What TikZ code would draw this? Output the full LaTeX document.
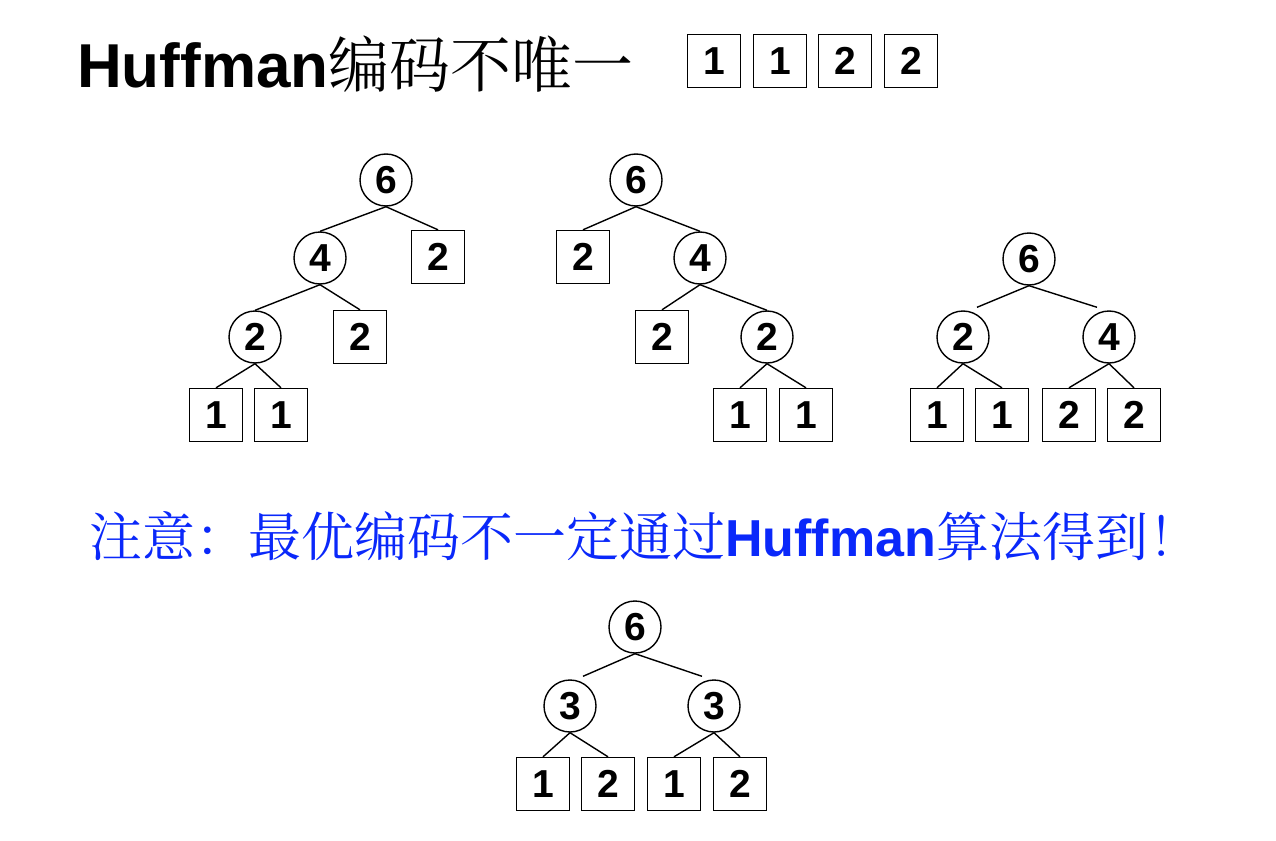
\documentclass[tikz,border=0pt]{standalone}
\usepackage{fontspec}
\setmainfont{Liberation Sans}
\IfFontExistsTF{Noto Serif CJK SC}
  {\newfontfamily\cjk{Noto Serif CJK SC}}
  {\IfFontExistsTF{FandolSong}
    {\newfontfamily\cjk{FandolSong}}
    {\newfontfamily\cjk{Noto Sans CJK SC}}}
\definecolor{noteblue}{RGB}{10,40,250}
\begin{document}
\begin{tikzpicture}[x=1pt,y=-1pt,
  every node/.style={font=\fontsize{39}{39}\selectfont\bfseries},
  cnode/.style={draw,circle,line width=1.4pt,minimum size=52pt,inner sep=0pt},
  bnode/.style={draw,rectangle,line width=1.4pt,minimum size=53pt,inner sep=0pt},
  edge/.style={line width=1.4pt}]
\useasboundingbox (0,0) rectangle (1276,840);
% title
\node[anchor=base west,inner sep=0pt] (title) at (77,88)
  {\fontsize{62}{62}\selectfont\bfseries Huffman{\mdseries\cjk\fontsize{61}{61}\selectfont 编码不唯一}};
\node[bnode] (t1) at (714,61) {1};
\node[bnode] (t2) at (780,61) {1};
\node[bnode] (t3) at (845,61) {2};
\node[bnode] (t4) at (911,61) {2};
% tree 1
\node[cnode] (a6) at (386,180) {6};
\node[cnode] (a4) at (320,258) {4};
\node[bnode] (a2r) at (438,257) {2};
\node[cnode] (a2) at (255,337) {2};
\node[bnode] (a2m) at (360,337) {2};
\node[bnode] (a1l) at (216,415) {1};
\node[bnode] (a1r) at (281,415) {1};
\draw[edge] (a6.south) -- (a4.north);
\draw[edge] (a6.south) -- (a2r.north);
\draw[edge] (a4.south) -- (a2.north);
\draw[edge] (a4.south) -- (a2m.north);
\draw[edge] (a2.south) -- (a1l.north);
\draw[edge] (a2.south) -- (a1r.north);
% tree 2
\node[cnode] (b6) at (636,180) {6};
\node[bnode] (b2l) at (583,257) {2};
\node[cnode] (b4) at (700,258) {4};
\node[bnode] (b2m) at (662,337) {2};
\node[cnode] (b2) at (767,337) {2};
\node[bnode] (b1l) at (740,415) {1};
\node[bnode] (b1r) at (806,415) {1};
\draw[edge] (b6.south) -- (b2l.north);
\draw[edge] (b6.south) -- (b4.north);
\draw[edge] (b4.south) -- (b2m.north);
\draw[edge] (b4.south) -- (b2.north);
\draw[edge] (b2.south) -- (b1l.north);
\draw[edge] (b2.south) -- (b1r.north);
% tree 3
\node[cnode] (c6) at (1029,259) {6};
\node[cnode] (c2) at (963,337) {2};
\node[cnode] (c4) at (1109,337) {4};
\node[bnode] (c1a) at (937,415) {1};
\node[bnode] (c1b) at (1002,415) {1};
\node[bnode] (c2a) at (1069,415) {2};
\node[bnode] (c2b) at (1134,415) {2};
\draw[edge] (c6.south) -- ([xshift=14pt,yshift=3pt]c2.north);
\draw[edge] (c6.south) -- ([xshift=-12pt,yshift=3pt]c4.north);
\draw[edge] (c2.south) -- (c1a.north);
\draw[edge] (c2.south) -- (c1b.north);
\draw[edge] (c4.south) -- (c2a.north);
\draw[edge] (c4.south) -- (c2b.north);
% note
\node[anchor=base west,inner sep=0pt,text=noteblue] (note) at (89,556)
  {\fontsize{52}{52}\selectfont{\mdseries\cjk\fontsize{53}{53}\selectfont 注意：最优编码不一定通过}\bfseries Huffman{\mdseries\cjk\fontsize{53}{53}\selectfont 算法得到！}};
% bottom tree
\node[cnode] (d6) at (635,627) {6};
\node[cnode] (d3l) at (570,706) {3};
\node[cnode] (d3r) at (714,706) {3};
\node[bnode] (d1a) at (543,784) {1};
\node[bnode] (d2a) at (608,784) {2};
\node[bnode] (d1b) at (674,784) {1};
\node[bnode] (d2b) at (740,784) {2};
\draw[edge] (d6.south) -- ([xshift=13pt,yshift=3pt]d3l.north);
\draw[edge] (d6.south) -- ([xshift=-12pt,yshift=3pt]d3r.north);
\draw[edge] (d3l.south) -- (d1a.north);
\draw[edge] (d3l.south) -- (d2a.north);
\draw[edge] (d3r.south) -- (d1b.north);
\draw[edge] (d3r.south) -- (d2b.north);
\end{tikzpicture}
\end{document}
